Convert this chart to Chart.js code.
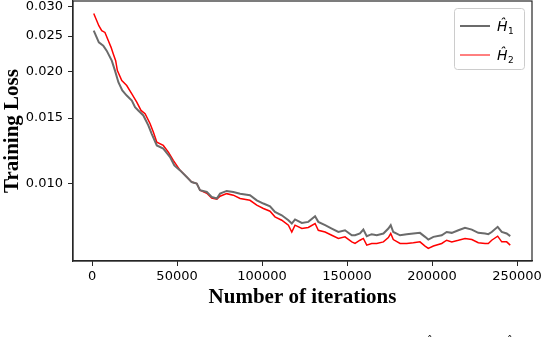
<!DOCTYPE html>
<html>
<head>
<meta charset="utf-8">
<script src="https://cdn.jsdelivr.net/npm/chart.js@4.4.0/dist/chart.umd.min.js"></script>
<style>
  html, body { margin: 0; padding: 0; background: #fff; }
</style>
</head>
<body>
<canvas id="chart" width="544" height="338"></canvas>
<script>
// H1 (gray) curve
const gIters = [1000, 4000, 6600, 8600, 11600, 13500, 15500, 17800, 20400, 23400,
  25300, 27200, 30200, 33100, 35100, 38100, 41900, 45900, 48400, 51800,
  55700, 58600, 61600, 63500, 67500, 70400, 73400, 75300, 79200, 83100,
  87100, 92900, 96900, 100800, 104700, 107600, 111600, 115500, 117500, 119400,
  123400, 127200, 131200, 133100, 137100, 141000, 144900, 148800, 152800, 154700,
  157600, 159600, 161600, 164500, 167500, 171400, 174300, 175700, 177200, 181200,
  185100, 189000, 192900, 195900, 197800, 200800, 205700, 208600, 211600, 215500,
  219400, 223400, 227200, 231200, 233100, 235100, 238600, 241000, 243900, 246000];
const gLoss = [0.02585, 0.02403, 0.02355, 0.02283, 0.02145, 0.02016, 0.01875, 0.01781, 0.01726, 0.01673,
  0.01605, 0.01573, 0.01525, 0.01433, 0.01360, 0.01265, 0.01240, 0.01177, 0.01117, 0.01083,
  0.01039, 0.01007, 0.00998, 0.00957, 0.00947, 0.00918, 0.00909, 0.00937, 0.00953, 0.00947,
  0.00937, 0.00928, 0.00899, 0.00881, 0.00866, 0.00836, 0.00819, 0.00794, 0.00778, 0.00798,
  0.00781, 0.00786, 0.00814, 0.00786, 0.00770, 0.00754, 0.00738, 0.00746, 0.00723, 0.00723,
  0.00731, 0.00749, 0.00719, 0.00728, 0.00723, 0.00731, 0.00754, 0.00770, 0.00738, 0.00723,
  0.00728, 0.00731, 0.00734, 0.00716, 0.00704, 0.00716, 0.00723, 0.00738, 0.00734, 0.00746,
  0.00757, 0.00749, 0.00734, 0.00731, 0.00728, 0.00738, 0.00762, 0.00738, 0.00731, 0.00719];

// H2 (red) curve
const rIters = [1000, 4000, 5700, 7600, 9600, 11200, 12500, 13900, 14900, 17500,
  20400, 23400, 26300, 28800, 31200, 34100, 36100, 38100, 41900, 44900,
  47800, 51800, 55700, 58600, 61600, 63500, 67500, 70400, 73400, 75300,
  79200, 83100, 87100, 92900, 96900, 100800, 104700, 107600, 111600, 115500,
  117500, 119400, 123400, 127200, 131200, 133100, 137100, 141000, 144900, 148800,
  152800, 154700, 157600, 159600, 161600, 164500, 167500, 171400, 174300, 175700,
  177200, 181200, 185100, 189000, 192900, 195900, 197800, 200800, 205700, 208600,
  211600, 215500, 219400, 223400, 227200, 231200, 233100, 235100, 238600, 241000,
  243900, 246000];
const rLoss = [0.02878, 0.02666, 0.02585, 0.02557, 0.02429, 0.02330, 0.02236, 0.02145, 0.02016, 0.01895,
  0.01837, 0.01744, 0.01656, 0.01573, 0.01541, 0.01450, 0.01374, 0.01291, 0.01265, 0.01214,
  0.01153, 0.01083, 0.01039, 0.01007, 0.00998, 0.00957, 0.00939, 0.00911, 0.00905, 0.00922,
  0.00937, 0.00928, 0.00909, 0.00899, 0.00872, 0.00854, 0.00840, 0.00811, 0.00794, 0.00770,
  0.00738, 0.00770, 0.00754, 0.00759, 0.00778, 0.00746, 0.00738, 0.00723, 0.00709, 0.00716,
  0.00694, 0.00687, 0.00701, 0.00709, 0.00680, 0.00687, 0.00687, 0.00694, 0.00713, 0.00731,
  0.00704, 0.00687, 0.00687, 0.00690, 0.00694, 0.00676, 0.00666, 0.00676, 0.00687, 0.00701,
  0.00694, 0.00701, 0.00709, 0.00704, 0.00690, 0.00687, 0.00687, 0.00701, 0.00719, 0.00694,
  0.00694, 0.00680];

const xTicks = [0, 50000, 100000, 150000, 200000, 250000];
const yTicks = [0.010, 0.015, 0.020, 0.025, 0.030];
const seriesSubs = ['1', '2'];

const toPoints = (xs, ys) => xs.map((x, i) => ({ x: x, y: ys[i] }));

// Box around the plot (matplotlib style spines)
const frame = {
  id: 'frame',
  afterDraw(chart) {
    const { ctx, chartArea: a } = chart;
    ctx.save();
    ctx.strokeStyle = '#262626';
    ctx.lineWidth = 1.2;
    ctx.strokeRect(a.left, a.top, a.right - a.left, a.bottom - a.top);
    ctx.restore();
  }
};

// Legend box in the upper right corner
const hatLegend = {
  id: 'hatLegend',
  afterDraw(chart) {
    const { ctx, chartArea: a } = chart;
    const bx = a.right - 78, by = a.top + 7, bw = 70, bh = 61;
    ctx.save();
    ctx.fillStyle = 'rgba(255,255,255,0.8)';
    ctx.strokeStyle = '#cccccc';
    ctx.lineWidth = 1;
    ctx.beginPath();
    ctx.roundRect(bx + 0.5, by + 0.5, bw, bh, 3);
    ctx.fill();
    ctx.stroke();
    chart.data.datasets.forEach((ds, i) => {
      const ly = by + 18 + i * 29;
      ctx.strokeStyle = ds.borderColor;
      ctx.lineWidth = i === 0 ? 2 : 1;
      ctx.beginPath();
      ctx.moveTo(bx + 6, ly);
      ctx.lineTo(bx + 36, ly);
      ctx.stroke();
      ctx.fillStyle = '#000';
      ctx.textBaseline = 'alphabetic';
      ctx.font = 'italic 14px "DejaVu Sans"';
      ctx.fillText('Ĥ', bx + 43, ly + 5);
      ctx.font = '9px "DejaVu Sans"';
      ctx.fillText(seriesSubs[i], bx + 54, ly + 8);
    });
    // cut-off caption marks at the very bottom of the picture
    ctx.font = '11px "DejaVu Sans"';
    ctx.fillStyle = '#000';
    ctx.fillText('ˆ', 427, chart.height + 6);
    ctx.fillText('ˆ', 507, chart.height + 6);
    ctx.restore();
  }
};

const tickFont = { family: 'DejaVu Sans', size: 13 };
const titleFont = { family: 'Liberation Serif', size: 21, weight: 'bold' };

new Chart(document.getElementById('chart'), {
  type: 'line',
  data: {
    datasets: [
      { label: 'H1', data: toPoints(gIters, gLoss), borderColor: '#6b6b6b', borderWidth: 2,
        pointRadius: 0, tension: 0, fill: false },
      { label: 'H2', data: toPoints(rIters, rLoss), borderColor: '#ff0000', borderWidth: 1.5,
        pointRadius: 0, tension: 0, fill: false }
    ]
  },
  options: {
    responsive: false,
    animation: false,
    devicePixelRatio: 1,
    layout: { padding: { top: 1, right: 12, left: 0, bottom: 0 } },
    plugins: { legend: { display: false }, tooltip: { enabled: false } },
    scales: {
      x: {
        type: 'linear',
        min: -11200,
        max: 258800,
        afterFit: s => { s.height = 77; s.paddingLeft = 0; s.paddingRight = 0; },
        afterBuildTicks: s => { s.ticks = xTicks.map(v => ({ value: v })); },
        ticks: { font: tickFont, color: '#000', padding: 3, maxRotation: 0, autoSkip: false,
          callback: v => String(v) },
        grid: { drawOnChartArea: false, tickLength: 5, color: '#262626' },
        border: { color: '#262626', width: 1.2 },
        title: { display: true, text: 'Number of iterations', font: titleFont, color: '#000',
          padding: { top: 0, bottom: 28 } }
      },
      y: {
        type: 'logarithmic',
        min: 0.00616,
        max: 0.0311,
        afterFit: s => { s.width = 73; s.paddingTop = 0; s.paddingBottom = 0; },
        afterBuildTicks: s => { s.ticks = yTicks.map(v => ({ value: v })); },
        ticks: { font: tickFont, color: '#000', padding: 5, autoSkip: false,
          callback: v => Number(v).toFixed(3) },
        grid: { drawOnChartArea: false, tickLength: 5, color: '#262626' },
        border: { color: '#262626', width: 1.2 },
        title: { display: true, text: 'Training Loss', font: titleFont, color: '#000',
          padding: { top: 0, bottom: 0 } }
      }
    }
  },
  plugins: [frame, hatLegend]
});
</script>
</body>
</html>
